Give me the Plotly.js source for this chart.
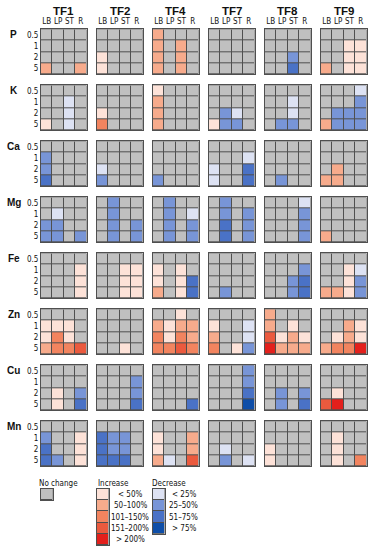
<!DOCTYPE html>
<html><head><meta charset="utf-8">
<script src="https://cdn.plot.ly/plotly-3.0.1.min.js"></script>
<style>html,body{margin:0;padding:0;background:#fff}#chart{width:372px;height:550px}</style>
</head><body><div id="chart"></div>
<script>
// ---- categories ----
const tfs = ['TF1','TF2','TF4','TF7','TF8','TF9'];
const elements = ['P','K','Ca','Mg','Fe','Zn','Cu','Mn'];
const tissues = ['LB','LP','ST','R'];
const doses = ['0.5','1','2','5'];

// ---- level codes: 0 no change, +1..+5 increase classes, -1..-4 decrease classes ----
// each element: one 4x4 grid per TF (rows = doses 0.5,1,2,5; cols = LB,LP,ST,R)
const P = [
  [[0,0,0,0],[0,0,0,0],[0,0,0,0],[2,0,0,2]],
  [[0,0,0,0],[0,0,0,0],[1,0,0,0],[1,0,0,0]],
  [[2,0,0,0],[2,0,2,0],[2,0,2,0],[2,0,2,0]],
  [[0,0,0,0],[0,0,0,0],[0,0,0,0],[0,0,0,0]],
  [[0,0,0,0],[0,0,0,0],[0,0,-2,0],[0,0,-3,0]],
  [[0,0,0,0],[0,0,1,1],[0,0,1,1],[2,0,1,1]]
];
const K = [
  [[0,0,0,0],[0,0,-1,0],[0,0,-1,0],[1,0,-1,0]],
  [[0,0,0,0],[0,0,0,0],[1,0,0,0],[3,0,0,0]],
  [[1,0,0,0],[2,0,0,0],[2,0,0,0],[2,0,0,0]],
  [[0,0,0,0],[0,0,0,0],[0,-2,-1,0],[1,-2,-2,0]],
  [[0,0,0,0],[0,0,-1,0],[0,0,-1,0],[0,-2,-2,0]],
  [[0,0,0,-1],[0,0,0,-2],[0,-2,-2,-2],[2,-2,-2,-2]]
];
const Ca = [
  [[0,0,0,0],[-2,0,0,0],[-2,0,0,0],[-3,0,0,0]],
  [[0,0,0,0],[0,0,0,0],[-1,0,0,0],[-2,0,0,0]],
  [[0,0,0,0],[0,0,0,0],[0,0,0,0],[-2,0,0,0]],
  [[0,0,0,0],[0,0,0,-1],[-1,0,0,-3],[-1,0,0,-3]],
  [[0,0,0,0],[0,0,0,0],[0,0,0,0],[0,-2,0,0]],
  [[0,0,0,0],[0,0,0,0],[0,2,0,0],[2,2,0,0]]
];
const Mg = [
  [[0,0,0,0],[0,-1,0,0],[-2,-2,0,0],[-2,-2,0,-2]],
  [[0,-2,0,0],[0,-2,0,0],[0,-2,0,-2],[0,-2,0,-2]],
  [[0,-2,0,0],[0,-2,0,-1],[0,-2,0,-2],[0,-2,0,-2]],
  [[0,-2,0,0],[0,-2,0,-2],[0,-3,0,-2],[0,-3,0,-2]],
  [[0,0,0,-1],[0,0,0,-2],[0,0,0,-2],[0,0,0,-2]],
  [[0,0,0,0],[0,0,0,0],[0,0,0,0],[2,0,0,0]]
];
const Fe = [
  [[0,0,0,0],[0,0,0,1],[0,0,0,1],[0,0,0,1]],
  [[0,0,0,0],[0,0,1,1],[0,0,1,1],[0,0,1,1]],
  [[0,0,0,0],[1,0,1,0],[1,0,1,-3],[2,0,1,-3]],
  [[0,0,0,0],[0,0,0,0],[0,0,0,0],[0,-2,0,0]],
  [[0,0,0,0],[0,0,0,-2],[0,0,-2,-3],[0,0,-2,-3]],
  [[0,0,0,0],[0,0,1,-1],[0,0,1,-2],[2,2,1,-2]]
];
const Zn = [
  [[0,0,0,0],[1,1,1,0],[1,3,1,0],[2,3,3,4]],
  [[0,0,0,0],[0,0,0,0],[0,0,0,0],[0,0,1,0]],
  [[0,0,1,0],[2,1,2,2],[3,1,3,2],[3,3,4,3]],
  [[0,0,0,0],[1,0,0,-1],[2,0,0,-1],[3,0,1,-2]],
  [[2,0,0,0],[2,0,1,0],[4,1,2,1],[5,2,2,2]],
  [[0,0,0,0],[0,0,2,1],[0,1,2,1],[2,3,3,5]]
];
const Cu = [
  [[0,0,0,0],[0,0,0,0],[0,1,0,-2],[0,1,0,-3]],
  [[0,0,0,0],[0,0,0,-2],[0,0,0,-2],[0,0,0,-3]],
  [[0,0,0,0],[0,0,0,0],[0,0,0,0],[0,0,0,-3]],
  [[0,0,0,-2],[0,0,0,-2],[0,0,0,-3],[0,0,0,-4]],
  [[0,0,0,0],[0,0,0,0],[0,-2,0,-2],[0,-2,0,-3]],
  [[0,0,0,0],[0,0,0,0],[0,1,0,0],[4,5,0,0]]
];
const Mn = [
  [[0,0,0,0],[-2,0,0,1],[-3,0,0,1],[-3,-2,0,1]],
  [[0,0,0,0],[-3,-2,-2,0],[-3,-2,-2,0],[-3,-3,-3,0]],
  [[0,0,0,0],[1,0,0,2],[1,0,0,2],[2,-1,0,4]],
  [[0,0,0,0],[0,0,0,0],[0,-1,0,0],[0,-2,0,-1]],
  [[0,0,0,0],[0,0,0,0],[1,0,0,0],[1,0,0,0]],
  [[0,0,0,0],[0,1,0,0],[0,1,0,0],[0,1,0,3]]
];

// ---- legend ----
const noChangeLabel = 'No change';
const increaseTitle = 'Increase';
const decreaseTitle = 'Decrease';
const increaseLevels = [1,2,3,4,5];
const increaseLabels = ['< 50%','50–100%','101–150%','151–200%','> 200%'];
const decreaseLevels = [-1,-2,-3,-4];
const decreaseLabels = ['< 25%','25–50%','51–75%','> 75%'];

// ---- colours for levels -4..5 ----
const levelCodes = [-4,-3,-2,-1,0,1,2,3,4,5];
const levelColors = ['#0e4ea8','#4a72c6','#7895d7','#dde2f3','#c0c0c0',
                     '#fde2d8','#f7ab8c','#f2845f','#eb5a3e','#e3201c'];

const dataByElement = {P, K, Ca, Mg, Fe, Zn, Cu, Mn};

// ---- build ----
const W = 372, H = 550;
const px = x => x / W, py = y => 1 - y / H;
const zmin = levelCodes[0] - 0.5, zmax = levelCodes[levelCodes.length-1] + 0.5;
const n = levelCodes.length;
const colorscale = [];
levelColors.forEach((c, k) => { colorscale.push([k/n, c]); colorscale.push([(k+1)/n, c]); });

const FONT = '"Liberation Sans", Arial, sans-serif';
const NARROW = '"DejaVu Sans Condensed", "Liberation Sans Narrow", "Liberation Sans", sans-serif';
const BORDER = '#4f4f4f';
const gridLeft0 = 41, gridTop0 = 29.3, pitchX = 56, pitchY = 56, gw = 45.5, gh = 45;

const traces = [];
const layout = {
  width: W, height: H, margin: {l:0, r:0, t:0, b:0},
  paper_bgcolor: '#ffffff', plot_bgcolor: BORDER, showlegend: false,
  font: {family: FONT, color: '#111'},
  annotations: []
};

let idx = 0;
function addGrid(z, xcats, ycats, x0, y0, w, h, showX, showY) {
  idx++;
  const xa = idx === 1 ? 'x' : 'x' + idx, ya = idx === 1 ? 'y' : 'y' + idx;
  const xk = idx === 1 ? 'xaxis' : 'xaxis' + idx, yk = idx === 1 ? 'yaxis' : 'yaxis' + idx;
  traces.push({
    type: 'heatmap', z: z, x: xcats, y: ycats, xaxis: xa, yaxis: ya,
    zmin: zmin, zmax: zmax, colorscale: colorscale, showscale: false,
    xgap: 1, ygap: 1, hoverinfo: 'skip'
  });
  layout[xk] = {
    domain: [px(x0), px(x0 + w)], anchor: ya, type: 'category', categoryarray: xcats,
    range: [-0.5, xcats.length - 0.5], showgrid: false, zeroline: false,
    showline: true, mirror: true, linecolor: BORDER, linewidth: 1,
    ticks: '', side: 'top', showticklabels: showX, tickangle: 0, ticklabelstandoff: 1,
    tickfont: {size: 8, family: NARROW, color: '#111'}, fixedrange: true
  };
  layout[yk] = {
    domain: [py(y0 + h), py(y0)], anchor: xa, type: 'category', categoryarray: ycats,
    range: [ycats.length - 0.5, -0.5], showgrid: false, zeroline: false,
    showline: true, mirror: true, linecolor: BORDER, linewidth: 1,
    ticks: '', showticklabels: showY, tickangle: 0, ticklabelstandoff: 0,
    tickfont: {size: 8, family: NARROW, color: '#111'}, fixedrange: true
  };
}

elements.forEach((el, r) => {
  const grids = dataByElement[el];
  tfs.forEach((tf, c) => {
    addGrid(grids[c], tissues, doses, gridLeft0 + c * pitchX, gridTop0 + r * pitchY, gw, gh, r === 0, c === 0);
  });
  layout.annotations.push({
    text: '<b>' + el + '</b>', xref: 'paper', yref: 'paper',
    x: px(13.8), y: py(gridTop0 + r * pitchY + 5.6), xanchor: 'center', yanchor: 'middle',
    showarrow: false, font: {size: 10, family: FONT, color: '#111'}
  });
});
tfs.forEach((tf, c) => {
  layout.annotations.push({
    text: '<b>' + tf + '</b>', xref: 'paper', yref: 'paper',
    x: px(gridLeft0 + c * pitchX + gw / 2), y: py(11), xanchor: 'center', yanchor: 'middle',
    showarrow: false, font: {size: 11.5, family: FONT, color: '#111'}
  });
});

// legend grids
const cellH = 11.2;
addGrid([[0]], ['a'], ['a'], 41, 489, 11.5, 11.2, false, false);
addGrid(increaseLevels.map(v => [v]), ['a'], increaseLabels, 97, 489, 11.5, cellH * increaseLevels.length, false, false);
addGrid(decreaseLevels.map(v => [v]), ['a'], decreaseLabels, 153, 489, 11.5, cellH * decreaseLevels.length, false, false);

const legFont = {size: 8, family: NARROW, color: '#111'};
layout.annotations.push({text: noChangeLabel, xref:'paper', yref:'paper', x: px(58), y: py(483.5), xanchor:'center', yanchor:'middle', showarrow:false, font: legFont});
layout.annotations.push({text: increaseTitle, xref:'paper', yref:'paper', x: px(113.5), y: py(483.5), xanchor:'center', yanchor:'middle', showarrow:false, font: legFont});
layout.annotations.push({text: decreaseTitle, xref:'paper', yref:'paper', x: px(169), y: py(483.5), xanchor:'center', yanchor:'middle', showarrow:false, font: legFont});
increaseLabels.forEach((t, i) => layout.annotations.push({text: t, xref:'paper', yref:'paper', x: px(130), y: py(489 + cellH * (i + 0.5)), xanchor:'center', yanchor:'middle', showarrow:false, font: legFont}));
decreaseLabels.forEach((t, i) => layout.annotations.push({text: t, xref:'paper', yref:'paper', x: px(183.5), y: py(489 + cellH * (i + 0.5)), xanchor:'center', yanchor:'middle', showarrow:false, font: legFont}));

Plotly.newPlot('chart', traces, layout, {displayModeBar: false, staticPlot: true});
</script>
</body></html>
